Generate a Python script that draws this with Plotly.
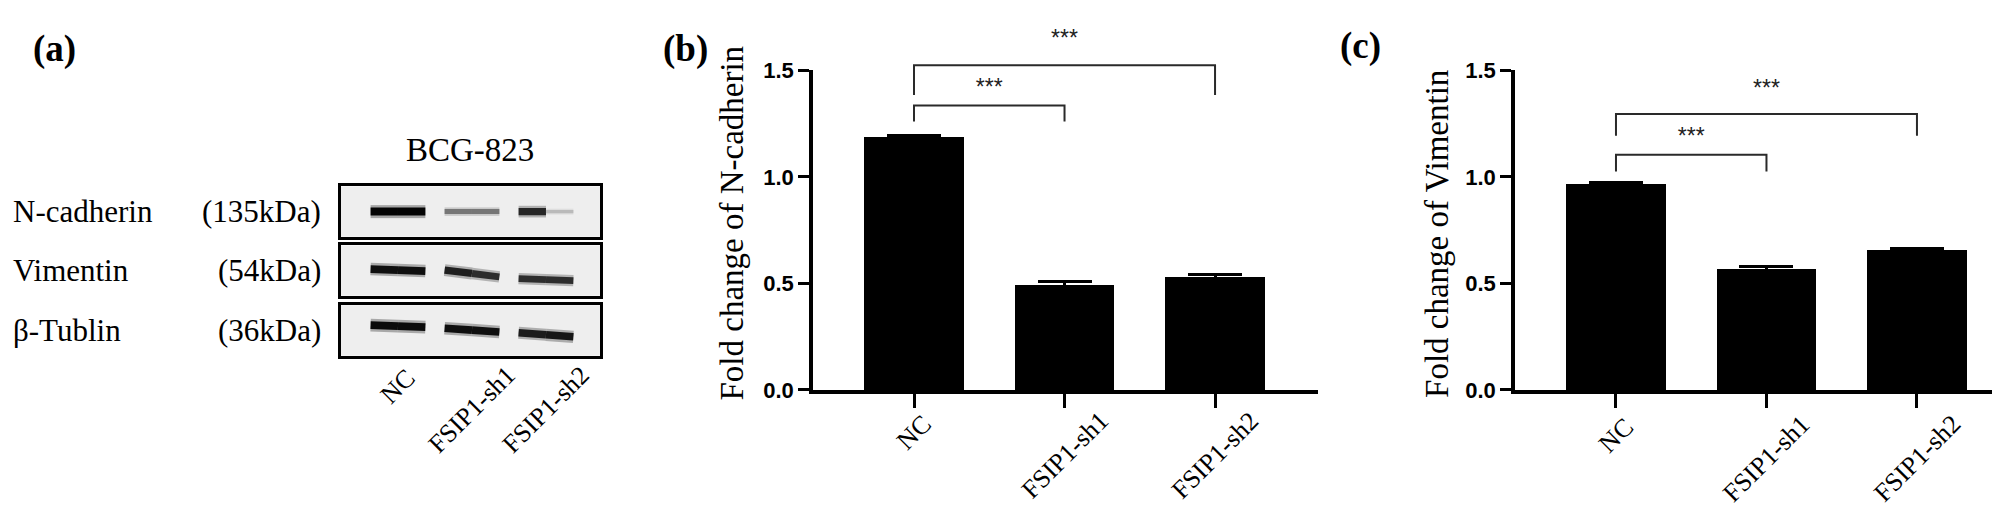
"""Western blot panel plus fold-change bar charts for N-cadherin and Vimentin."""

import plotly.graph_objects as go

# ---- data -----------------------------------------------------------------
CATEGORIES = ["NC", "FSIP1-sh1", "FSIP1-sh2"]

NCAD_MEAN = [1.185, 0.490, 0.530]
NCAD_SD = [0.008, 0.017, 0.010]
VIM_MEAN = [0.965, 0.567, 0.656]
VIM_SD = [0.008, 0.012, 0.010]

# significance brackets: (left group, right group), leg bottom, bar top, star height
NCAD_PAIRS = [(0, 1), (0, 2)]
NCAD_LEG_LOW = [1.260, 1.385]
NCAD_BRACKET_TOP = [1.335, 1.524]
NCAD_STAR_Y = [1.43, 1.66]
VIM_PAIRS = [(0, 1), (0, 2)]
VIM_LEG_LOW = [1.025, 1.193]
VIM_BRACKET_TOP = [1.104, 1.295]
VIM_STAR_Y = [1.20, 1.424]
STARS = ["***", "***"]

# western blot: band intensity (0..1) per lane, left and right half of each band
BLOT_PROTEINS = ["N-cadherin", "Vimentin", "β-Tublin"]
BLOT_SIZES = ["(135kDa)", "(54kDa)", "(36kDa)"]
NCAD_BAND_LEFT = [1.00, 0.50, 0.85]
NCAD_BAND_RIGHT = [1.00, 0.50, 0.20]
VIM_BAND_LEFT = [0.95, 0.88, 0.82]
VIM_BAND_RIGHT = [0.95, 0.82, 0.82]
TUB_BAND_LEFT = [0.97, 0.95, 0.90]
TUB_BAND_RIGHT = [0.97, 0.95, 0.92]
CELL_LINE = "BCG-823"

# ---- geometry (pixels of the 2000x510 canvas) ------------------------------
W, H = 2000, 510
SERIF = "Liberation Serif, Times New Roman, serif"
SANS = "Liberation Sans, Arial, sans-serif"

# vertical position of each band inside its strip (left end, right end), range -1..1
BAND_Y = [
    [(0.0, 0.0), (0.0, 0.0), (0.0, 0.0)],
    [(0.06, -0.02), (0.02, -0.25), (-0.32, -0.40)],
    [(0.21, 0.13), (0.09, -0.06), (-0.09, -0.25)],
]
BAND_HALF = 0.37
BLOT_ROWS_PX = [(175, 228), (237, 290), (300, 353)]
BLOT_X_PX = (333, 592)
BLOT_X_RANGE = [-0.77, 2.73]

ZERO_PX, TOP_PX = 389, 53            # y pixel of 0.0 and 1.5 in the bar panels
PX_PER_UNIT = (ZERO_PX - TOP_PX) / 1.5


def px(p):
    return p / W


def py(p):
    return 1 - p / H


def gray(level):
    v = int(round(232 - 228 * level))
    return f"rgb({v},{v},{v})"


def label_center(top_px, label):
    # rotated (-45 deg) category labels hang below the axis; their centre drops with length
    return py(top_px + 9 + 3.4 * len(label))


fig = go.Figure()

# ---- panel (a): western blot -------------------------------------------------
band_sets = [
    (NCAD_BAND_LEFT, NCAD_BAND_RIGHT),
    (VIM_BAND_LEFT, VIM_BAND_RIGHT),
    (TUB_BAND_LEFT, TUB_BAND_RIGHT),
]
blot_axes = ["", "2", "3"]
for row, (left, right) in enumerate(band_sets):
    ax = blot_axes[row]
    for lane in range(len(CATEGORIES)):
        y0, y1 = BAND_Y[row][lane]
        ym = (y0 + y1) / 2
        halves = [
            ([lane - BAND_HALF, lane], [y0, ym], left[lane]),
            ([lane, lane + BAND_HALF], [ym, y1], right[lane]),
        ]
        for xs, ys, level in halves:
            # soft halo, then the band core
            fig.add_trace(go.Scatter(
                x=xs, y=ys, mode="lines", xaxis="x" + ax, yaxis="y" + ax,
                line=dict(color=gray(level), width=4 + 9 * level),
                opacity=0.3, hoverinfo="skip", showlegend=False,
            ))
            fig.add_trace(go.Scatter(
                x=xs, y=ys, mode="lines", xaxis="x" + ax, yaxis="y" + ax,
                line=dict(color=gray(level), width=2 + 6 * level),
                hoverinfo="skip", showlegend=False,
            ))

# ---- panels (b) and (c): bar charts -----------------------------------------
panels = [
    dict(mean=NCAD_MEAN, sd=NCAD_SD, pairs=NCAD_PAIRS, low=NCAD_LEG_LOW,
         top=NCAD_BRACKET_TOP, star=NCAD_STAR_Y, bar="4", br="5"),
    dict(mean=VIM_MEAN, sd=VIM_SD, pairs=VIM_PAIRS, low=VIM_LEG_LOW,
         top=VIM_BRACKET_TOP, star=VIM_STAR_Y, bar="6", br="7"),
]
for p in panels:
    fig.add_trace(go.Bar(
        x=list(range(len(CATEGORIES))), y=p["mean"], width=0.66,
        marker=dict(color="black", line=dict(width=0)),
        error_y=dict(type="data", array=p["sd"], color="black", thickness=3, width=27),
        xaxis="x" + p["bar"], yaxis="y" + p["bar"],
        hovertext=CATEGORIES, showlegend=False,
    ))
    for (a, b), lo, hi in zip(p["pairs"], p["low"], p["top"]):
        fig.add_trace(go.Scatter(
            x=[a, a, b, b], y=[lo, hi, hi, lo], mode="lines",
            line=dict(color="#2a2a2a", width=2),
            xaxis="x" + p["br"], yaxis="y" + p["br"],
            hoverinfo="skip", showlegend=False,
        ))
    fig.add_trace(go.Scatter(
        x=[(a + b) / 2 for a, b in p["pairs"]],
        y=[s - 4 / PX_PER_UNIT for s in p["star"]],
        mode="text", text=STARS, textposition="middle center",
        textfont=dict(family=SANS, size=23, color="#222222"),
        xaxis="x" + p["br"], yaxis="y" + p["br"], cliponaxis=False,
        hoverinfo="skip", showlegend=False,
    ))

# ---- axes -------------------------------------------------------------------
layout_axes = {}
blot_dom_x = [px(BLOT_X_PX[0]), px(BLOT_X_PX[1])]
for row, ax in enumerate(blot_axes):
    top_px, bot_px = BLOT_ROWS_PX[row]
    common = dict(showline=True, mirror=True, linewidth=3, linecolor="black",
                  showgrid=False, zeroline=False, showticklabels=False, ticks="",
                  fixedrange=True)
    layout_axes["xaxis" + ax] = dict(domain=blot_dom_x, range=BLOT_X_RANGE,
                                     anchor="y" + ax, **common)
    layout_axes["yaxis" + ax] = dict(domain=[py(bot_px), py(top_px)], range=[-1, 1],
                                     anchor="x" + ax, **common)

bar_x_px = {"4": (805, 1310, 2.684), "6": (1507, 1997, 2.585)}
for p in panels:
    x0, x1, xmax = bar_x_px[p["bar"]]
    xr = [-0.671, xmax]
    layout_axes["xaxis" + p["bar"]] = dict(
        domain=[px(x0), px(x1)], range=xr, anchor="y" + p["bar"],
        showline=True, linewidth=4, linecolor="black", showgrid=False, zeroline=False,
        ticks="outside", ticklen=14, tickwidth=3, tickcolor="black",
        tickvals=list(range(len(CATEGORIES))), showticklabels=False, fixedrange=True,
    )
    layout_axes["yaxis" + p["bar"]] = dict(
        domain=[py(ZERO_PX), py(TOP_PX)], range=[0, 1.5], anchor="x" + p["bar"],
        showline=True, linewidth=3.5, linecolor="black", showgrid=False, zeroline=False,
        ticks="outside", ticklen=11, tickwidth=3, tickcolor="black",
        tickvals=[0, 0.5, 1.0, 1.5], ticktext=["0.0", "0.5", "1.0", "1.5"],
        tickfont=dict(family=SANS, size=22, color="black", weight="bold"),
        fixedrange=True,
    )
    hidden = dict(visible=False, showgrid=False, zeroline=False, fixedrange=True)
    layout_axes["xaxis" + p["br"]] = dict(domain=[px(x0), px(x1)], range=xr,
                                          anchor="y" + p["br"], **hidden)
    layout_axes["yaxis" + p["br"]] = dict(domain=[py(ZERO_PX), 1],
                                          range=[0, ZERO_PX / PX_PER_UNIT],
                                          anchor="x" + p["br"], **hidden)

# ---- text -------------------------------------------------------------------
ann = []


def text(t, x, y, size, family=SERIF, xanchor="center", yanchor="middle",
         xref="paper", yref="paper", angle=0, bold=False):
    ann.append(dict(text=t, x=x, y=y, xref=xref, yref=yref, showarrow=False,
                    xanchor=xanchor, yanchor=yanchor, textangle=angle,
                    font=dict(family=family, size=size, color="black",
                              weight="bold" if bold else "normal")))


text("(a)", px(23), py(31), 37, xanchor="left", bold=True)
text("(b)", px(653), py(30), 37, xanchor="left", bold=True)
text("(c)", px(1330), py(27), 37, xanchor="left", bold=True)

text(CELL_LINE, px(462), py(137), 33)
for row, (name, size) in enumerate(zip(BLOT_PROTEINS, BLOT_SIZES)):
    yc = py(sum(BLOT_ROWS_PX[row]) / 2)
    text(name, px(3), yc, 31, xanchor="left")
    text(size, px(315), yc, 31, xanchor="right")
for i, c in enumerate(CATEGORIES):
    text(c, i, label_center(370, c), 26, xref="x3", angle=-45)
    text(c, i, label_center(418, c), 26, xref="x4", angle=-45)
    text(c, i, label_center(421, c), 26, xref="x6", angle=-45)

text("Fold change of N-cadherin", px(724), py(214), 33, angle=-90)
text("Fold change of Vimentin", px(1429), py(225), 33, angle=-90)

# grey membrane background behind each blot strip
shapes = [
    dict(type="rect", xref=f"x{ax} domain", yref=f"y{ax} domain",
         x0=0, x1=1, y0=0, y1=1, fillcolor="#eeeeee", line=dict(width=0), layer="below")
    for ax in blot_axes
]

fig.update_layout(
    width=W, height=H,
    margin=dict(l=0, r=0, t=0, b=0),
    paper_bgcolor="white", plot_bgcolor="rgba(0,0,0,0)",
    annotations=ann, shapes=shapes, bargap=0,
    showlegend=False,
    **layout_axes,
)

fig.write_html("out.html")
